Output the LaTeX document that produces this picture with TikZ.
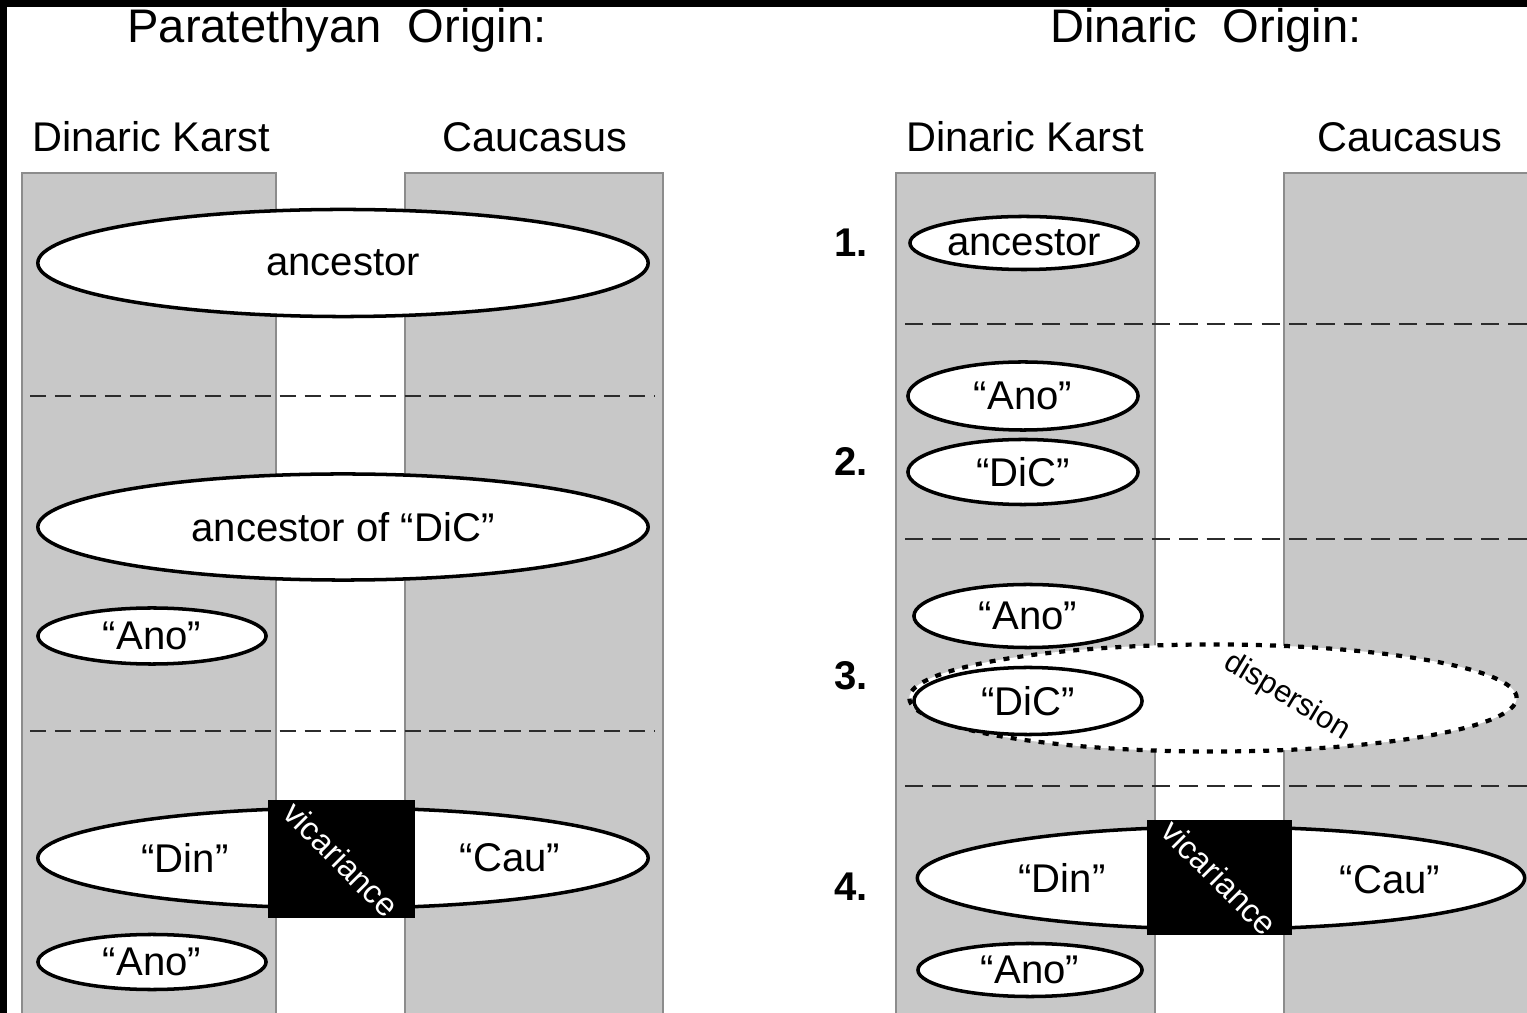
\documentclass[tikz,border=0pt]{standalone}
\usepackage{fontspec}
\setmainfont{Liberation Sans}
\usetikzlibrary{shapes.geometric}
\definecolor{regiongray}{HTML}{C8C8C8}
\definecolor{edgegray}{HTML}{8C8C8C}
\definecolor{stagegray}{HTML}{2C2C2C}

\begin{document}
\begin{tikzpicture}[x=0.01cm, y=-0.01cm,
    region/.style={fill=regiongray, draw=edgegray, line width=0.45pt},
    taxon/.style={ellipse, draw, line width=1pt, fill=white, inner sep=0pt, font=\fontsize{11.4}{13}\selectfont},
    sz/.style 2 args={minimum width=#1cm, minimum height=#2cm},
    vicbox/.style={rectangle, fill=black, inner sep=0pt},
    victext/.style={white, rotate=-45, inner sep=0pt, font=\fontsize{9.3}{11}\selectfont},
    stageline/.style={stagegray, line width=0.75pt, dash pattern=on 4.6pt off 2.5pt},
    lbl/.style={font=\fontsize{11.8}{13}\selectfont, anchor=base},
    ttl/.style={font=\fontsize{13.4}{15}\selectfont, anchor=base},
    stepno/.style={font=\fontsize{11.4}{13}\selectfont\bfseries}]
            % Frame and regions:
                \useasboundingbox (0,0) rectangle (1527,1013);
                \fill[black] (0,0) rectangle (1527,1013);
                \fill[white] (7,7) rectangle (1527,1013);
                \draw[region] (22,173) rectangle (276,1020);
                \draw[region] (405,173) rectangle (663,1020);
                \draw[region] (896,173) rectangle (1155,1020);
                \draw[region] (1284,173) rectangle (1540,1020);
            % Headings:
                \node[ttl] (tP) at (337,43) {Paratethyan\ \ Origin:};
                \node[ttl] (tD) at (1206,43) {Dinaric\ \ Origin:};
                \node[lbl] (kL) at (151,152) {Dinaric Karst};
                \node[lbl] (cL) at (535,152) {Caucasus};
                \node[lbl] (kR) at (1025,152) {Dinaric Karst};
                \node[lbl] (cR) at (1410,152) {Caucasus};
            % Paratethyan origin:
                \node[taxon, sz={6.1}{1.07}] (ancL) at (343,263) {ancestor};
                \node[taxon, sz={6.1}{1.06}] (ancDiC) at (343,527) {ancestor of “DiC”};
                \node[taxon, sz={2.28}{0.56}] (anoL1) at (152,636) {“Ano”};
                \node[taxon, sz={6.1}{1.0}] (dcL) at (343,858) {};
                \node at (185,858) [font=\fontsize{11.4}{13}\selectfont] (dinL) {“Din”};
                \node at (510,858) [font=\fontsize{11.4}{13}\selectfont] (cauL) {“Cau”};
                \node[vicbox, minimum width=1.47cm, minimum height=1.18cm] (vicL) at (341.5,859) {};
                \node[victext] (vicLt) at (vicL.center) {vicariance};
                \node[taxon, sz={2.28}{0.55}] (anoL2) at (152,962) {“Ano”};
                \draw[stageline] (30,396) -- (655,396);
                \draw[stageline] (30,731) -- (655,731);
            % Dinaric origin:
                \node[stepno] (s1) at (851,243) {1.};
                \node[stepno] (s2) at (851,462) {2.};
                \node[stepno] (s3) at (851,676) {3.};
                \node[stepno] (s4) at (851,887) {4.};
                \node[taxon, sz={2.28}{0.53}] (ancR) at (1024,243) {ancestor};
                \node[taxon, sz={2.3}{0.68}] (anoR2) at (1023,396) {“Ano”};
                \node[taxon, sz={2.3}{0.65}] (dicR2) at (1023,472) {“DiC”};
                \node[ellipse, draw, fill=white, line width=1.2pt, dash pattern=on 1.7pt off 2.3pt, sz={6.07}{1.07}] (disp) at (1213,698) {};
                \node[rotate=-31, font=\fontsize{8.8}{10}\selectfont] (dispt) at (1287,697) {dispersion};
                \node[taxon, sz={2.28}{0.63}] (anoR3) at (1028,616) {“Ano”};
                \node[taxon, sz={2.28}{0.67}] (dicR3) at (1028,701) {“DiC”};
                \node[taxon, sz={6.07}{1.02}] (dcR) at (1221,878) {};
                \node at (1062,878) [font=\fontsize{11.4}{13}\selectfont] (dinR) {“Din”};
                \node at (1390,880) [font=\fontsize{11.4}{13}\selectfont] (cauR) {“Cau”};
                \node[vicbox, minimum width=1.45cm, minimum height=1.15cm] (vicR) at (1219.5,877.5) {};
                \node[victext] (vicRt) at (vicR.center) {vicariance};
                \node[taxon, sz={2.24}{0.53}] (anoR4) at (1030,970) {“Ano”};
                \draw[stageline, dash pattern=on 5.2pt off 2.6pt] (905,324) -- (1527,324);
                \draw[stageline, dash pattern=on 5.2pt off 2.6pt] (905,539) -- (1527,539);
                \draw[stageline, dash pattern=on 5.2pt off 2.6pt] (905,786) -- (1527,786);
            \end{tikzpicture}
\end{document}
